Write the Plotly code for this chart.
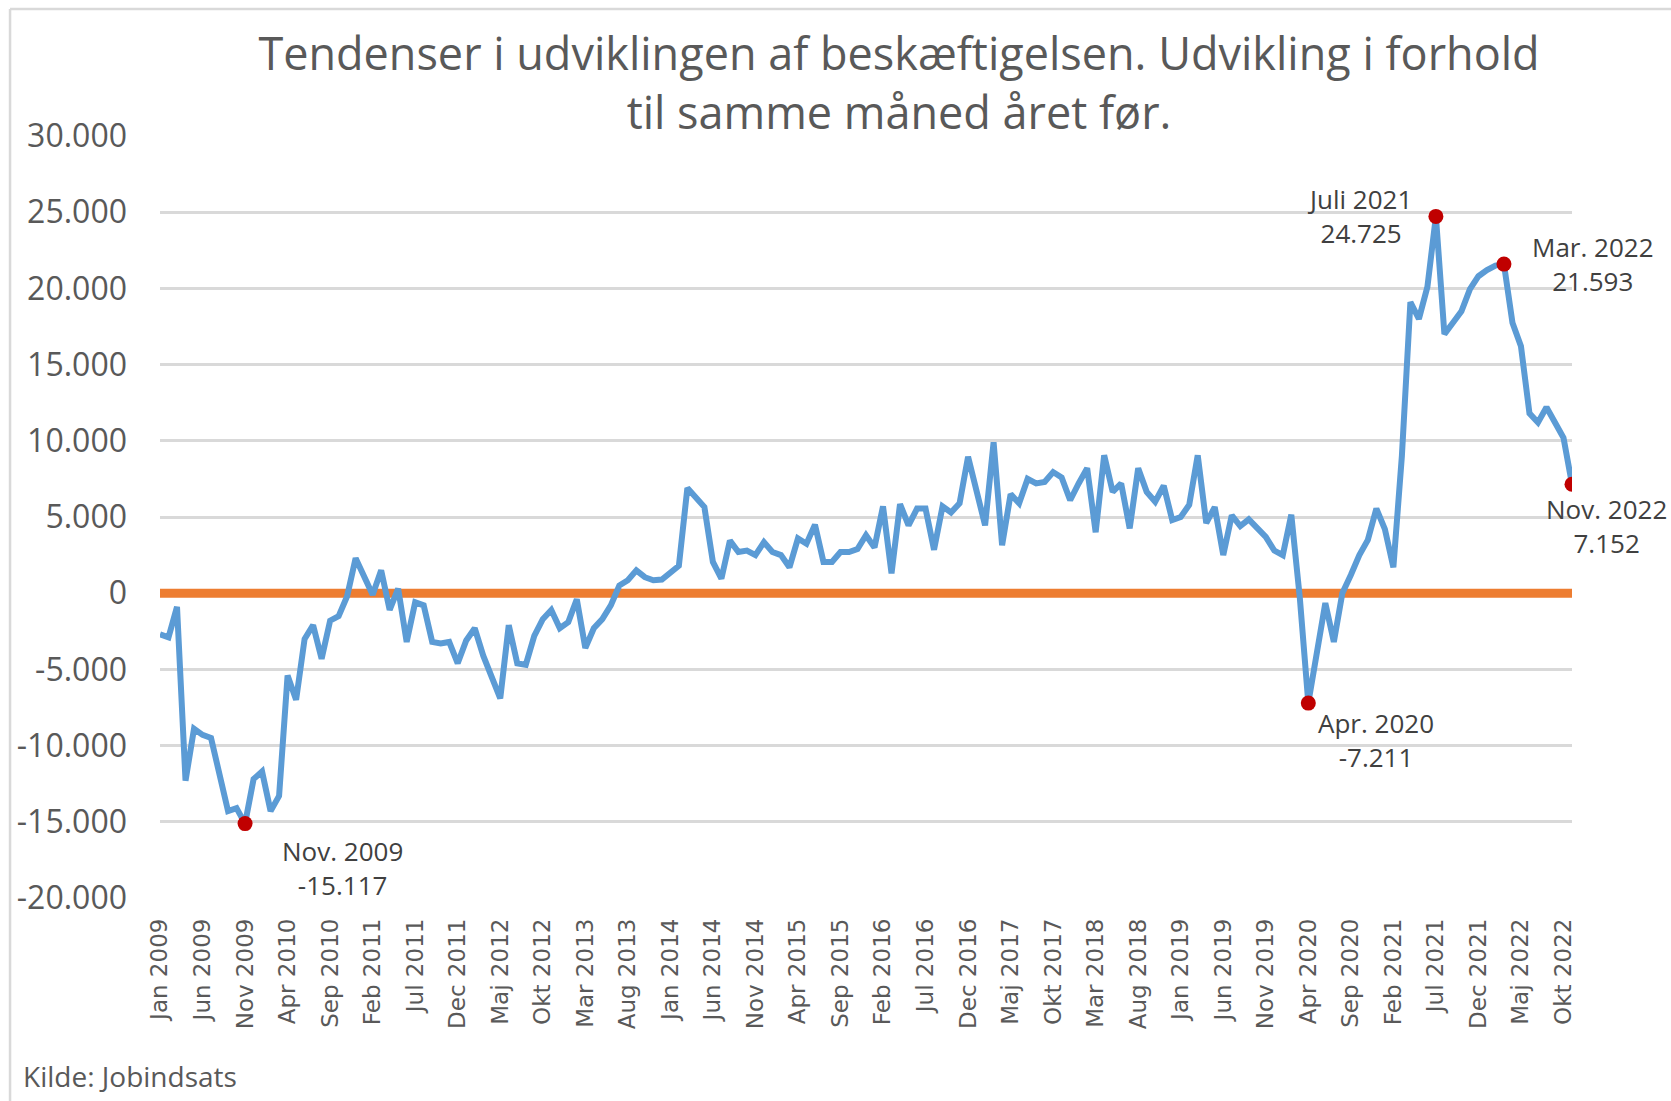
import plotly.graph_objects as go

# ---------------- data ----------------
MONTHS = ["Jan", "Feb", "Mar", "Apr", "Maj", "Jun", "Jul", "Aug", "Sep", "Okt", "Nov", "Dec"]
YEARS = list(range(2009, 2023))
categories = [f"{m} {y}" for y in YEARS for m in MONTHS][:167]  # Jan 2009 .. Nov 2022

values = [
    -2700, -2900, -900, -12300, -8900, -9300, -9500, -12000, -14300, -14100, -15117, -12200,   # 2009
    -11700, -14300, -13300, -5400, -7000, -3000, -2100, -4300, -1800, -1500, -200, 2300,      # 2010
    1200, -100, 1500, -1100, 300, -3200, -600, -800, -3200, -3300, -3200, -4600,              # 2011
    -3100, -2300, -4100, -5600, -6900, -2100, -4600, -4700, -2800, -1700, -1100, -2300,       # 2012
    -1900, -400, -3600, -2300, -1700, -800, 500, 850, 1500, 1050, 850, 900,                   # 2013
    1300, 1800, 6900, 6200, 5650, 2050, 950, 3450, 2700, 2800, 2500, 3350,                    # 2014
    2700, 2500, 1700, 3600, 3250, 4500, 2050, 2050, 2700, 2700, 2900, 3800,                   # 2015
    3000, 5700, 1300, 5850, 4450, 5550, 5550, 2850, 5700, 5300, 5900, 8950,                   # 2016
    6850, 4450, 9900, 3150, 6500, 5900, 7500, 7200, 7300, 7950, 7600, 6100,                   # 2017
    7200, 8200, 4000, 9050, 6650, 7200, 4250, 8200, 6650, 6000, 7050, 4800,                   # 2018
    5000, 5800, 9050, 4600, 5650, 2500, 5100, 4400, 4850, 4300, 3700, 2800,                   # 2019
    2500, 5150, -300, -7211, -4200, -650, -3200, 0, 1200, 2500, 3500, 5550,                   # 2020
    4200, 1700, 9000, 19100, 18000, 20100, 24725, 17000, 17750, 18500, 19950, 20800,          # 2021
    21200, 21500, 21593, 17750, 16200, 11800, 11200, 12200, 11200, 10200, 7152,               # 2022
]
zero_values = [0] * len(categories)

tick_categories = categories[::5]          # Jan 2009, Jun 2009, ... Okt 2022
y_tickvals = [30000, 25000, 20000, 15000, 10000, 5000, 0, -5000, -10000, -15000, -20000]
y_ticktext = ["30.000", "25.000", "20.000", "15.000", "10.000", "5.000", "0",
              "-5.000", "-10.000", "-15.000", "-20.000"]

highlight_categories = ["Nov 2009", "Apr 2020", "Jul 2021", "Mar 2022", "Nov 2022"]
highlight_names = ["Nov. 2009", "Apr. 2020", "Juli 2021", "Mar. 2022", "Nov. 2022"]

title_text = "Tendenser i udviklingen af beskæftigelsen. Udvikling i forhold<br>til samme måned året før."
source_text = "Kilde: Jobindsats"

# ---------------- styles ----------------
BLUE = "#5B9BD5"
ORANGE = "#ED7D31"
RED = "#C00000"
GRID = "#D9D9D9"
TEXT = "#595959"
LABEL = "#404040"
label_offsets = {  # pixel shifts of each label from its point
    "Nov 2009": (97, -44),
    "Apr 2020": (68, -37),
    "Jul 2021": (-76, 0),
    "Mar 2022": (89, 0),
    "Nov 2022": (34, -42),
}

hl_values = [values[categories.index(c)] for c in highlight_categories]


def fmt(v):
    return f"{v:,}".replace(",", ".")


fig = go.Figure()
fig.add_trace(go.Scatter(x=categories, y=zero_values, mode="lines",
                         line=dict(color=ORANGE, width=9), hoverinfo="skip", showlegend=False))
fig.add_trace(go.Scatter(x=categories, y=values, mode="lines",
                         line=dict(color=BLUE, width=6), showlegend=False))
fig.add_trace(go.Scatter(x=highlight_categories, y=hl_values, mode="markers",
                         marker=dict(color=RED, size=15), showlegend=False))

for c, name, v in zip(highlight_categories, highlight_names, hl_values):
    dx, dy = label_offsets[c]
    fig.add_annotation(x=c, y=v, xref="x", yref="y", text=f"{name}<br>{fmt(v)}",
                       showarrow=False, xanchor="center", yanchor="middle",
                       xshift=dx, yshift=dy, align="center",
                       font=dict(family="Open Sans", size=26, color=LABEL))

fig.add_annotation(x=-0.0984, y=-0.2336, xref="paper", yref="paper", text=source_text,
                   showarrow=False, xanchor="left", yanchor="middle",
                   font=dict(family="Open Sans", size=28, color=TEXT))

# chart-area border (top and left visible)
fig.add_shape(type="line", xref="paper", yref="paper", x0=-0.1062, x1=1.08, y0=1.1667, y1=1.1667,
              line=dict(color=GRID, width=2.5))
fig.add_shape(type="line", xref="paper", yref="paper", x0=-0.1062, x1=-0.1062, y0=1.1667, y1=-0.3,
              line=dict(color=GRID, width=2.5))

fig.update_layout(
    width=1671, height=1101,
    margin=dict(l=160, r=99, t=136, b=203),
    paper_bgcolor="white", plot_bgcolor="white",
    title=dict(text=title_text, x=899 / 1671, xanchor="center", xref="container",
               y=1 - 70 / 1101, yanchor="middle", yref="container",
               font=dict(family="Open Sans", size=45, color=TEXT)),
    xaxis=dict(type="category", range=[0, len(categories) - 1],
               tickmode="array", tickvals=tick_categories, ticktext=tick_categories,
               tickangle=-90, showgrid=False, zeroline=False, showline=False,
               ticks="", ticklabelstandoff=15,
               tickfont=dict(family="DejaVu Sans", size=23, color=TEXT)),
    yaxis=dict(range=[-20000, 30000], tickmode="array", tickvals=y_tickvals, ticktext=y_ticktext,
               showgrid=True, gridcolor=GRID, gridwidth=2.5, zeroline=False, showline=False,
               ticks="", ticklabelstandoff=32,
               tickfont=dict(family="Open Sans", size=32, color=TEXT)),
    showlegend=False,
)

fig.write_html("out.html", config={"displayModeBar": False},
               post_script="document.body.style.margin='0';")
